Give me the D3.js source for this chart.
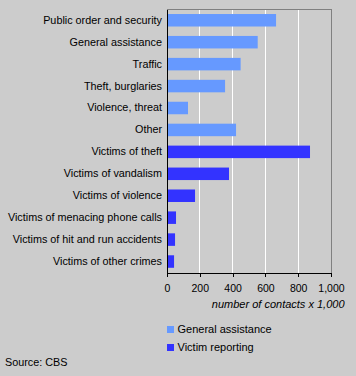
<!DOCTYPE html>
<html><head><meta charset="utf-8">
<script src="https://cdn.jsdelivr.net/npm/d3@7"></script>
<style>
html,body{margin:0;padding:0;background:#cccccc;}
svg{display:block;font-family:Arial,"Liberation Sans",sans-serif;}
</style></head>
<body>
<script>
const categories = ["Public order and security","General assistance","Traffic","Theft, burglaries","Violence, threat","Other","Victims of theft","Victims of vandalism","Victims of violence","Victims of menacing phone calls","Victims of hit and run accidents","Victims of other crimes"];
const values = [665,553,449,354,128,421,872,378,171,55,49,43];
const groups = ["General assistance","General assistance","General assistance","General assistance","General assistance","General assistance","Victim reporting","Victim reporting","Victim reporting","Victim reporting","Victim reporting","Victim reporting"];
const seriesNames = ["General assistance","Victim reporting"];
const tickValues = [0,200,400,600,800,1000];
const axisTitle = "number of contacts x 1,000";
const sourceText = "Source: CBS";

(function(){
const W=356,H=376;
const mLeft=167,mRight=331,mTop=9.3,mBottom=272.5;
const svg=d3.select("body").append("svg").attr("width",W).attr("height",H);
svg.append("rect").attr("width",W).attr("height",H).attr("fill","#cccccc");

const x=d3.scaleLinear().domain([0,1000]).range([mLeft,mRight]);
const y=d3.scaleBand().domain(categories).range([mTop,mBottom]).paddingInner(0.43).paddingOuter(0.215);
const color=d3.scaleOrdinal().domain(seriesNames).range(["#6699ff","#3333ff"]);

svg.append("g").selectAll("line").data(tickValues.slice(1,-1)).join("line")
  .attr("x1",d=>x(d)).attr("x2",d=>x(d)).attr("y1",mTop).attr("y2",mBottom)
  .attr("stroke","#ffffff").attr("stroke-width",1).attr("shape-rendering","crispEdges");
svg.append("path").attr("d",`M${mLeft},${mTop}H${mRight}V${mBottom}`).attr("fill","none")
  .attr("stroke","#808080").attr("stroke-width",1).attr("shape-rendering","crispEdges");

svg.append("g").selectAll("rect").data(categories).join("rect")
  .attr("x",x(0)).attr("y",d=>y(d)).attr("height",y.bandwidth())
  .attr("width",(d,i)=>x(values[i])-x(0)).attr("fill",(d,i)=>color(groups[i]));

const ya=svg.append("g").attr("transform",`translate(${mLeft},0)`)
  .call(d3.axisLeft(y).tickSize(0).tickPadding(5));
ya.select(".domain").attr("stroke","#000").attr("shape-rendering","crispEdges");
ya.selectAll("text").attr("font-size","10.8px").attr("fill","#000").attr("font-family","Arial,'Liberation Sans',sans-serif");

const xa=svg.append("g").attr("transform",`translate(0,${mBottom})`)
  .call(d3.axisBottom(x).tickValues(tickValues).tickSize(4).tickPadding(8).tickFormat(d3.format(",")).tickSizeOuter(0));
xa.select(".domain").attr("stroke","#000").attr("shape-rendering","crispEdges");
xa.selectAll("line").attr("stroke","#000").attr("shape-rendering","crispEdges");
xa.selectAll("text").attr("font-size","10.5px").attr("fill","#000").attr("font-family","Arial,'Liberation Sans',sans-serif");

svg.append("text").attr("x",344.5).attr("y",304.3).attr("dy","0.35em").attr("text-anchor","end")
  .attr("font-size","11px").attr("font-style","italic").text(axisTitle);

const lg=svg.append("g").selectAll("g").data(seriesNames).join("g")
  .attr("transform",(d,i)=>`translate(167,${329.5+i*18})`);
lg.append("rect").attr("x",0).attr("y",-3.5).attr("width",7).attr("height",7).attr("fill",d=>color(d));
lg.append("text").attr("x",10.5).attr("y",0).attr("dy","0.35em").attr("font-size","11px").text(d=>d);

svg.append("text").attr("x",5).attr("y",362.5).attr("dy","0.35em").attr("font-size","10.8px").text(sourceText);
})();
</script>
</body></html>
